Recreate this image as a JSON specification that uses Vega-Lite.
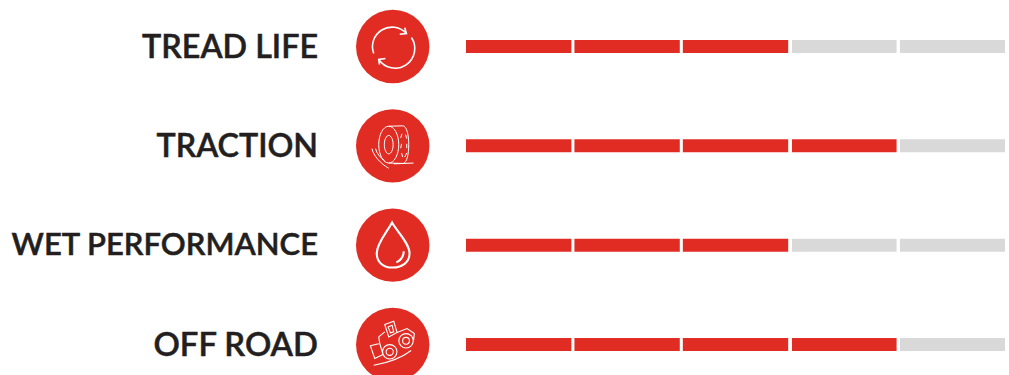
{"$schema":"https://vega.github.io/schema/vega-lite/v6.json","width":1009,"height":375,"padding":0,"autosize":"none","background":"white","view":{"stroke":null},"datasets":{"metrics":[{"metric":"TREAD LIFE"},{"metric":"TRACTION"},{"metric":"WET PERFORMANCE"},{"metric":"OFF ROAD"}],"segments":[{"metric":"TREAD LIFE","start":0,"end":0.972,"state":"on"},{"metric":"TREAD LIFE","start":1,"end":1.972,"state":"on"},{"metric":"TREAD LIFE","start":2,"end":2.972,"state":"on"},{"metric":"TREAD LIFE","start":3.007,"end":3.972,"state":"off"},{"metric":"TREAD LIFE","start":4.003,"end":4.972,"state":"off"},{"metric":"TRACTION","start":0,"end":0.972,"state":"on"},{"metric":"TRACTION","start":1,"end":1.972,"state":"on"},{"metric":"TRACTION","start":2,"end":2.972,"state":"on"},{"metric":"TRACTION","start":3.007,"end":3.972,"state":"on"},{"metric":"TRACTION","start":4.003,"end":4.972,"state":"off"},{"metric":"WET PERFORMANCE","start":0,"end":0.972,"state":"on"},{"metric":"WET PERFORMANCE","start":1,"end":1.972,"state":"on"},{"metric":"WET PERFORMANCE","start":2,"end":2.972,"state":"on"},{"metric":"WET PERFORMANCE","start":3.007,"end":3.972,"state":"off"},{"metric":"WET PERFORMANCE","start":4.003,"end":4.972,"state":"off"},{"metric":"OFF ROAD","start":0,"end":0.972,"state":"on"},{"metric":"OFF ROAD","start":1,"end":1.972,"state":"on"},{"metric":"OFF ROAD","start":2,"end":2.972,"state":"on"},{"metric":"OFF ROAD","start":3.007,"end":3.972,"state":"on"},{"metric":"OFF ROAD","start":4.003,"end":4.972,"state":"off"}]},"encoding":{"y":{"field":"metric","type":"nominal","sort":null,"axis":null,"scale":{"type":"point","padding":0,"domain":["TREAD LIFE","TRACTION","WET PERFORMANCE","OFF ROAD"],"range":[46.5,344.5]}}},"layer":[{"data":{"name":"segments"},"mark":{"type":"bar","height":13},"encoding":{"x":{"field":"start","type":"quantitative","axis":null,"scale":{"domain":[-4.299,5.009],"nice":false,"zero":false}},"x2":{"field":"end"},"color":{"field":"state","type":"nominal","legend":null,"scale":{"domain":["on","off"],"range":["#E12C24","#D9D9DA"]}}}},{"data":{"name":"metrics"},"mark":{"type":"text","align":"right","baseline":"middle","font":"Lato","fontWeight":600,"color":"#231F20","stroke":"#231F20","strokeWidth":0.5,"dy":1},"encoding":{"x":{"datum":-1.365,"type":"quantitative"},"text":{"field":"metric"},"size":{"field":"metric","type":"nominal","legend":null,"scale":{"type":"ordinal","domain":["TREAD LIFE","TRACTION","WET PERFORMANCE","OFF ROAD"],"range":[32.3,32.2,31,32.8]}}}},{"data":{"name":"metrics"},"mark":{"type":"point","filled":true,"size":5390,"shape":"circle","color":"#E12C24","opacity":1},"encoding":{"x":{"datum":-0.676,"type":"quantitative"}}},{"data":{"name":"metrics"},"mark":{"type":"point","filled":false,"size":6400,"stroke":"#ffffff","opacity":1},"encoding":{"x":{"datum":-0.676,"type":"quantitative"},"strokeWidth":{"field":"metric","type":"nominal","legend":null,"scale":{"type":"ordinal","domain":["TREAD LIFE","TRACTION","WET PERFORMANCE","OFF ROAD"],"range":[1.6,1,2.1,1.1]}},"shape":{"field":"metric","type":"nominal","legend":null,"scale":{"domain":["TREAD LIFE","TRACTION","WET PERFORMANCE","OFF ROAD"],"range":["M-.475 .175A.4875 .4875 0 0 1 .342 -.325M.3 -.467L.342 -.325L.175 -.308M.467 -.225A.4875 .4875 0 0 1 -.35 .325M-.333 .45L-.35 .325L-.183 .3","M-.35 -.03A.25 .46 0 1 1 .15 -.03A.25 .46 0 1 1 -.35 -.03ZM-.21 -.03A.11 .23 0 1 1 .01 -.03A.11 .23 0 1 1 -.21 -.03ZM-.1 -.49L.25 -.5C.45 -.5 .45 .45 .25 .44L-.1 .43M.23 -.3L.2 -.2M.32 -.28L.35 -.18M.22 -.05L.2 .06M.35 -.05L.35 .06M.22 .18L.25 .28M.35 .18L.3 .28M.03 .45L.52 .43M-.52 .07C-.48 .25 -.3 .45 -.1 .56M-.43 .07C-.4 .2 -.3 .3 -.2 .38","M-.017 -.567C.1 -.35 .42 -.05 .42 .2C.42 .42 .25 .56 0 .56C-.25 .56 -.4 .42 -.4 .2C-.4 -.05 -.13 -.35 -.017 -.567ZM.275 .15C.27 .3 .2 .38 .09 .43","M-.255 .183A.18 .18 0 1 1 .105 .183A.18 .18 0 1 1 -.255 .183ZM-.165 .183A.09 .09 0 1 1 .015 .183A.09 .09 0 1 1 -.165 .183ZM.153 -.092A.18 .18 0 1 1 .513 -.092A.18 .18 0 1 1 .153 -.092ZM.248 -.092A.085 .085 0 1 1 .418 -.092A.085 .085 0 1 1 .248 -.092ZM-.558 .033L-.325 -.025L-.242 .25L-.45 .35ZM-.2 -.5L.025 -.583L.108 -.3L-.1 -.19ZM-.117 -.44L-.017 -.483L.025 -.317L-.058 -.292ZM-.325 -.025L-.35 -.19L-.2 -.317M.108 -.3L.358 -.4L.54 -.275L.52 -.1M-.475 .52C-.2 .47 .2 .35 .46 .15"]}}}}]}
